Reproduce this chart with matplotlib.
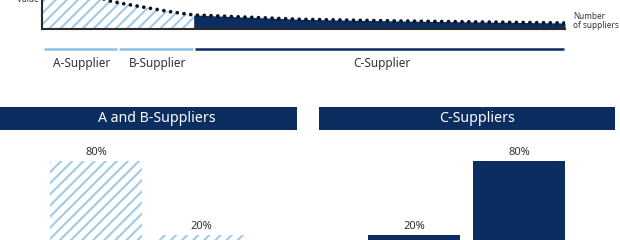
import matplotlib
matplotlib.use("Agg")
import matplotlib.pyplot as plt

plt.rcParams['font.family'] = ['Noto Sans', 'DejaVu Sans']
plt.rcParams['hatch.linewidth'] = 1.5

NAVY = '#0b2d5f'
LIGHT = '#8fc1e0'
HATCH = '#9fcbe8'
TEXT = '#333333'
AXIS = '#2b2b2b'

# Cumulative supplier share (%) and value per supplier (curve)
supplier_share = [0, 3.4, 7.3, 10.1, 13, 15.9, 20.7, 24.5, 29, 39.8, 49.3, 68.5, 100]
supplier_value = [70, 52, 40, 33, 28, 25, 20.7, 17.3, 14, 11.7, 9.7, 8, 6]

# Supplier classes and their share boundaries (%)
classes = ['A-Supplier', 'B-Supplier', 'C-Supplier']
class_bounds = [0, 14.5, 29, 100]
ab_cut = 29

# Share of value vs. share of suppliers per group
panel_titles = ['A and B-Suppliers', 'C-Suppliers']
ab_values = [80, 20]
c_values = [20, 80]
ab_labels = ['80%', '20%']
c_labels = ['20%', '80%']

W, H = 620, 240
fig = plt.figure(figsize=(W / 100, H / 100), dpi=100)


def px_axes(x0, y0, x1, y1):
    """Axes placed by pixel box (top-left origin)."""
    return fig.add_axes([x0 / W, 1 - y1 / H, (x1 - x0) / W, (y1 - y0) / H])


# ---- Top: value curve over number of suppliers ----
ax = px_axes(42, -11, 565, 29)
ax.set_xlim(0, 100)
ax.set_ylim(0, 40)
xs_ab = [x for x in supplier_share if x <= ab_cut]
ys_ab = supplier_value[:len(xs_ab)]
xs_c = [x for x in supplier_share if x >= ab_cut]
ys_c = supplier_value[len(supplier_share) - len(xs_c):]
ax.fill_between(xs_ab, 0, ys_ab, facecolor='white', edgecolor=HATCH,
                hatch='///', linewidth=0)
ax.fill_between(xs_c, 0, ys_c, facecolor=NAVY, edgecolor=NAVY, linewidth=0)
ax.plot(supplier_share, supplier_value, color='#0d1422', lw=2.7,
        linestyle=(0, (0.01, 1.8)), dash_capstyle='round', clip_on=True)
for s in ['top', 'right']:
    ax.spines[s].set_visible(False)
for s in ['left', 'bottom']:
    ax.spines[s].set_color(AXIS)
    ax.spines[s].set_linewidth(1.5)
ax.set_xticks([])
ax.set_yticks([])
ax.patch.set_alpha(0)

fig.text(28 / W, 1 - 2 / H, 'Value', ha='center', va='baseline',
         fontsize=6, color=TEXT)
fig.text(573 / W, 1 - 21 / H, 'Number\nof suppliers', ha='left', va='center',
         fontsize=5.9, color=TEXT, linespacing=1.05)

# ---- Supplier class bands ----
axb = px_axes(42, 40, 565, 75)
axb.set_xlim(0, 100)
axb.set_ylim(0, 35)
axb.axis('off')
band_colors = [LIGHT, LIGHT, NAVY]
for i, name in enumerate(classes):
    a, b = class_bounds[i], class_bounds[i + 1]
    axb.plot([a + 0.3, b - 0.2], [26, 26], color=band_colors[i], lw=1.8,
             solid_capstyle='butt')
    axb.text((a + b) / 2 + 0.4, 11, name, ha='center', va='center',
             fontsize=8.5, color=TEXT)


# ---- Bottom panels ----
def panel(x0, x1, banner, title, title_cx, centers_px, values, labels, hatched):
    fig.patches.append(plt.Rectangle((banner[0] / W, 1 - 130 / H),
                                     (banner[1] - banner[0]) / W, 23 / H,
                                     transform=fig.transFigure, facecolor=NAVY,
                                     edgecolor='none'))
    fig.text(title_cx / W, 1 - 119 / H, title, ha='center', va='center',
             fontsize=10.2, color='white')
    step = centers_px[1] - centers_px[0]
    axp = px_axes(x0, 136.4, x1, 259.7)
    axp.set_xlim((x0 - centers_px[0]) / step, (x1 - centers_px[0]) / step)
    axp.set_ylim(0, 100)
    axp.axis('off')
    pos = list(range(len(values)))
    if hatched:
        axp.bar(pos, values, width=92 / step, facecolor='white',
                edgecolor=HATCH, hatch='///', linewidth=0)
    else:
        axp.bar(pos, values, width=92 / step, color=NAVY, linewidth=0)
    for p, v, lab in zip(pos, values, labels):
        axp.text(p, v + 2.5, lab, ha='center', va='bottom', fontsize=8,
                 color=TEXT)


panel(0, 310, (0, 297), panel_titles[0], 157, (96, 201), ab_values, ab_labels, True)
panel(310, 620, (319, 615), panel_titles[1], 477, (414, 519), c_values, c_labels, False)

fig.savefig('out.png', dpi=100)
